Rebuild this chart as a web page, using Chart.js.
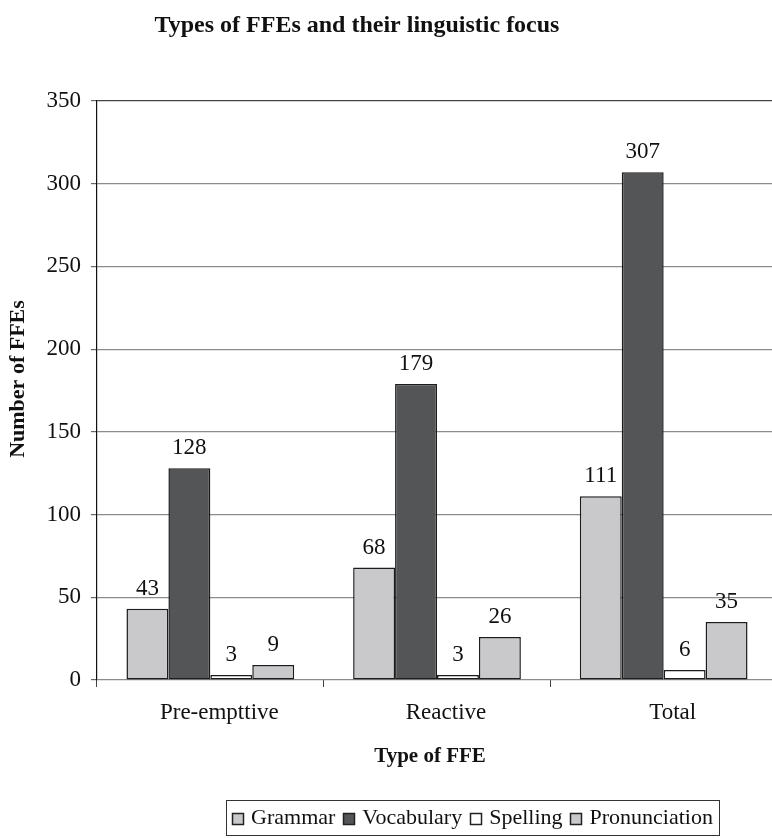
<!DOCTYPE html>
<html>
<head>
<meta charset="utf-8">
<script src="https://cdn.jsdelivr.net/npm/chart.js@4"></script>
<style>
html,body{margin:0;padding:0;background:#fff;overflow:hidden;}
#wrap{width:772px;height:838px;position:relative;overflow:hidden;}
</style>
</head>
<body>
<div id="wrap"><canvas id="c" width="777" height="838"></canvas></div>
<script>
const categories = ["Pre-empttive", "Reactive", "Total"];
const seriesNames = ["Grammar", "Vocabulary", "Spelling", "Pronunciation"];
const grammar = [43, 68, 111];
const vocabulary = [128, 179, 307];
const spelling = [3, 3, 6];
const pronunciation = [9, 26, 35];
const yTicks = [0, 50, 100, 150, 200, 250, 300, 350];
const titleText = "Types of FFEs and their linguistic focus";
const xTitle = "Type of FFE";
const yTitle = "Number of FFEs";

const fills = ["#c9c9cb", "#545557", "#ffffff", "#c9c9cb"];
const SERIF = "'Liberation Serif', 'Times New Roman', serif";

const labelPlugin = {
  id: 'valueLabels',
  afterDatasetsDraw(chart) {
    const ctx = chart.ctx;
    ctx.save();
    ctx.font = "23px " + SERIF;
    ctx.fillStyle = "#111";
    ctx.textAlign = "center";
    ctx.textBaseline = "alphabetic";
    chart.data.datasets.forEach((ds, i) => {
      const meta = chart.getDatasetMeta(i);
      meta.data.forEach((el, j) => {
        ctx.fillText(String(ds.data[j]), el.x, el.y - 14);
      });
    });
    ctx.restore();
  }
};

const decorPlugin = {
  id: 'decor',
  afterDraw(chart) {
    const ctx = chart.ctx;
    ctx.save();
    ctx.fillStyle = "#111";
    ctx.textAlign = "center";
    ctx.textBaseline = "middle";
    // title
    ctx.font = "bold 24px " + SERIF;
    ctx.fillText(titleText, 357, 26);
    // x axis title
    ctx.font = "bold 21px " + SERIF;
    ctx.fillText(xTitle, 430, 757);
    // y axis title
    ctx.font = "bold 22px " + SERIF;
    ctx.save();
    ctx.translate(18, 379);
    ctx.rotate(-Math.PI / 2);
    ctx.fillText(yTitle, 0, 0);
    ctx.restore();
    // legend
    ctx.font = "22px " + SERIF;
    const sq = 12, gapSq = 7, gapItem = 8, pad = 6;
    const widths = seriesNames.map(n => ctx.measureText(n).width);
    let total = 0;
    widths.forEach((w, i) => { total += sq + gapSq + w + (i < widths.length - 1 ? gapItem : 0); });
    const boxW = total + pad * 2;
    const cx = 472.5;
    const bx = cx - boxW / 2, by = 800, bh = 35;
    ctx.strokeStyle = "#333";
    ctx.lineWidth = 1;
    ctx.strokeRect(Math.round(bx) + 0.5, by + 0.5, Math.round(boxW), bh);
    let x = bx + pad;
    const midY = by + bh / 2 + 1;
    ctx.textAlign = "left";
    ctx.textBaseline = "middle";
    seriesNames.forEach((n, i) => {
      ctx.fillStyle = fills[i];
      ctx.fillRect(Math.round(x), Math.round(midY - sq / 2), sq, sq);
      ctx.strokeStyle = "#222";
      ctx.lineWidth = 1.5;
      ctx.strokeRect(Math.round(x) + 0.5, Math.round(midY - sq / 2) + 0.5, sq - 1, sq - 1);
      x += sq + gapSq;
      ctx.fillStyle = "#111";
      ctx.fillText(n, x, midY);
      x += widths[i] + gapItem;
    });
    ctx.restore();
  }
};

const datasetsArr = [grammar, vocabulary, spelling, pronunciation].map((d, i) => ({
  label: seriesNames[i],
  data: d,
  backgroundColor: fills[i],
  borderColor: "#1c1c1c",
  borderWidth: 1.5,
  borderSkipped: false,
  barPercentage: 1.0,
  categoryPercentage: 0.74
}));

new Chart(document.getElementById('c'), {
  type: 'bar',
  data: { labels: categories, datasets: datasetsArr },
  options: {
    responsive: false,
    animation: false,
    layout: { padding: { top: 101, right: 0, left: 0, bottom: 0 } },
    plugins: {
      legend: { display: false },
      title: { display: false },
      tooltip: { enabled: false }
    },
    scales: {
      x: {
        offset: true,
        grid: { display: true, drawOnChartArea: false, drawTicks: true, tickLength: 7, color: "#444", lineWidth: 1 },
        border: { display: false },
        ticks: { font: { family: SERIF, size: 23 }, color: "#111", padding: 12, labelOffset: 9 },
        afterFit(s) { s.height = 158; }
      },
      y: {
        min: 0, max: 350,
        afterBuildTicks(s) { s.ticks = yTicks.map(v => ({ value: v })); },
        grid: {
          color: (c) => (c.tick && c.tick.value === 350) ? "#444" : "#8c8c8c",
          lineWidth: 1.2,
          tickLength: 6,
          tickColor: "#666"
        },
        border: { display: true, color: "#111", width: 1.2 },
        ticks: { font: { family: SERIF, size: 23 }, color: "#111", padding: 10 },
        afterFit(s) { s.width = 97; }
      }
    }
  },
  plugins: [labelPlugin, decorPlugin]
});
</script>
</body>
</html>
